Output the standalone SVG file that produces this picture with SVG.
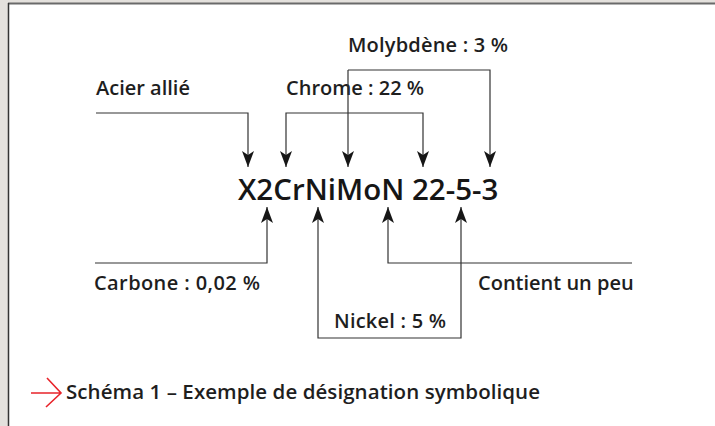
<svg xmlns="http://www.w3.org/2000/svg" width="715" height="426" viewBox="0 0 715 426">
<defs>
<style>
.lbl{font-family:"Open Sans","Liberation Sans",sans-serif;font-weight:600;font-size:20px;fill:#1e1e1e}
.main{font-family:"Open Sans","Liberation Sans",sans-serif;font-weight:600;font-size:29.5px;fill:#161616}
.cap{font-family:"Open Sans","Liberation Sans",sans-serif;font-weight:600;font-size:20.5px;fill:#1e1e1e}
.ln{fill:none;stroke:#333;stroke-width:1.2}
</style>
<marker id="ah" viewBox="0 0 16 12" refX="16" refY="6" markerWidth="16" markerHeight="12" markerUnits="userSpaceOnUse" orient="auto">
<path d="M0,0 L16,6 L0,12 L4,6 Z" fill="#161616"/>
</marker>
</defs>
<rect x="0" y="0" width="715" height="426" fill="#e4e1dd"/>
<rect x="9" y="4" width="706" height="422" fill="#fff"/>
<line x1="8" y1="3.5" x2="715" y2="3.5" stroke="#6a6a6a" stroke-width="2"/>
<line x1="8.5" y1="3" x2="8.5" y2="426" stroke="#333" stroke-width="1.5"/>

<g id="designation"><text class="main" x="238" y="200">X2CrNiMoN 22-5-3</text></g>

<g id="acier"><text class="lbl" x="96" y="95">Acier allié</text></g>
<g id="chrome"><text class="lbl" x="286" y="95">Chrome : 22 %</text></g>
<g id="molybdene"><text class="lbl" x="348" y="52" textLength="160" lengthAdjust="spacing">Molybdène : 3 %</text></g>
<g id="carbone"><text class="lbl" x="94" y="290" textLength="166" lengthAdjust="spacing">Carbone : 0,02 %</text></g>
<g id="azote"><text class="lbl" x="478" y="290">Contient un peu</text></g>
<g id="nickel"><text class="lbl" x="334" y="328" textLength="112" lengthAdjust="spacing">Nickel : 5 %</text></g>

<g id="connectors">
<path class="ln" d="M96,113 H248 V167" marker-end="url(#ah)"/>
<path class="ln" d="M354,113 H286 V167" marker-end="url(#ah)"/>
<path class="ln" d="M354,113 H423 V167" marker-end="url(#ah)"/>
<path class="ln" d="M348,70 V167" marker-end="url(#ah)"/>
<path class="ln" d="M348,70 H490 V167" marker-end="url(#ah)"/>
<path class="ln" d="M95,263 H267 V207" marker-end="url(#ah)"/>
<path class="ln" d="M632,263 H388 V207" marker-end="url(#ah)"/>
<path class="ln" d="M390,338 H318 V207" marker-end="url(#ah)"/>
<path class="ln" d="M390,338 H461 V207" marker-end="url(#ah)"/>
</g>

<g id="caption">
<path d="M31,393 H61 M47,378 L61,393 L46,407" fill="none" stroke="#e8232a" stroke-width="1.6"/>
<text class="cap" x="66" y="399" textLength="474" lengthAdjust="spacing">Schéma 1 – Exemple de désignation symbolique</text>
</g>
</svg>
